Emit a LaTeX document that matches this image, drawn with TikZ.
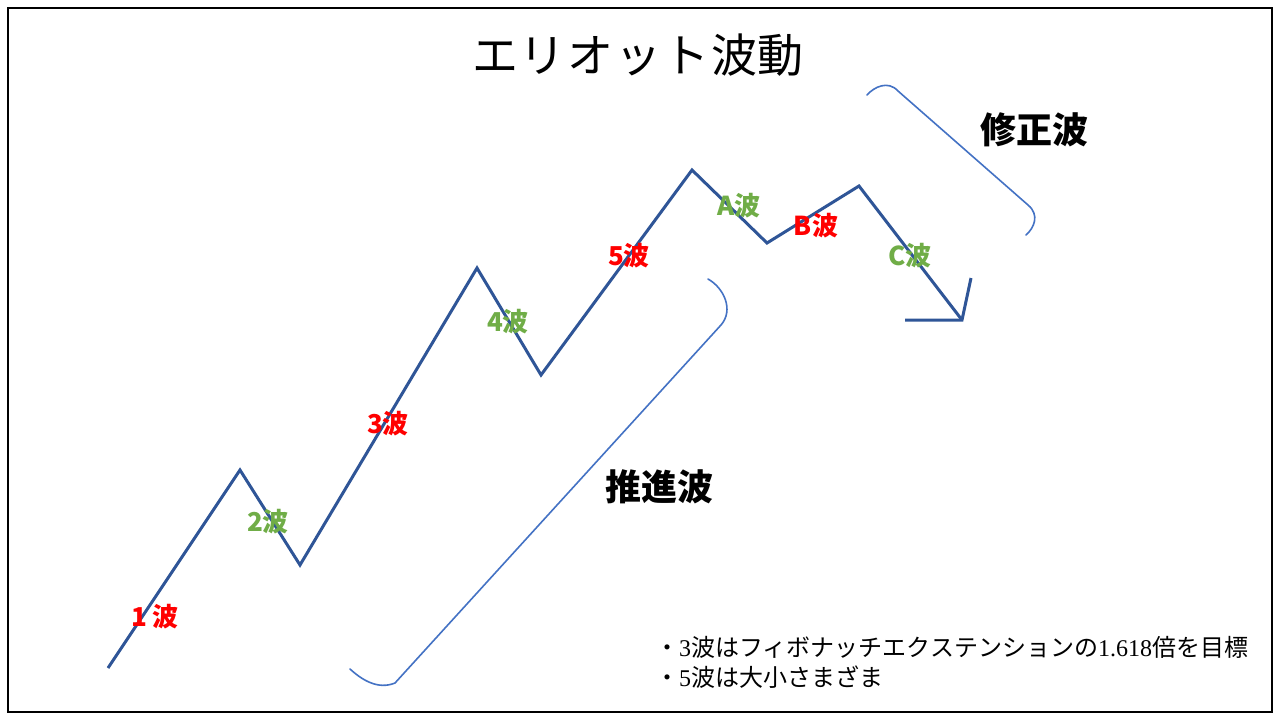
\documentclass[tikz,border=0pt]{standalone}
\usepackage{fontspec}
\newfontfamily\jp{Noto Sans CJK JP}
\newfontfamily\sernum{Liberation Serif}
\definecolor{wave}{HTML}{2F5597}
\definecolor{brk}{HTML}{4472C4}
\definecolor{wred}{HTML}{FF0000}
\definecolor{wgreen}{HTML}{70AD47}
\tikzset{
  waveline/.style={draw=wave, line width=3pt, line join=miter},
  bracketline/.style={draw=brk, line width=1.6pt, line cap=round},
  redlbl/.style={text=wred, font=\jp\bfseries\fontsize{26}{30}\selectfont, inner sep=0pt},
  greenlbl/.style={text=wgreen, font=\jp\bfseries\fontsize{26}{30}\selectfont, inner sep=0pt},
  biglbl/.style={text=black, font=\jp\bfseries\fontsize{36}{40}\selectfont, inner sep=0pt},
  titlelbl/.style={text=black, font=\jp\fontsize{46}{50}\selectfont, inner sep=0pt},
  notelbl/.style={text=black, font=\jp\fontsize{24}{30}\selectfont, inner sep=0pt, anchor=west, align=left}
}
\begin{document}
\begin{tikzpicture}[x=1pt,y=-1pt]
\useasboundingbox (0,0) rectangle (1280,720);
\fill[white] (0,0) rectangle (1280,720);
\draw[line width=1.5pt] (8,8) rectangle (1272,712);

% title
\node[titlelbl] (title) at (638,55) {エ\kern2pt リ\kern2pt オ\kern2pt ッ\kern2pt ト\kern2pt 波動};

% wave points
\coordinate (p0) at (108,668);
\coordinate (p1) at (240,470);
\coordinate (p2) at (300,565);
\coordinate (p3) at (477,268);
\coordinate (p4) at (541,375);
\coordinate (p5) at (692,170);
\coordinate (p6) at (767,243);
\coordinate (p7) at (859,186);
\coordinate (p8) at (962,320);
\coordinate (a1) at (905,320);
\coordinate (a2) at (971,278);
\draw[waveline] (p0) -- (p1) -- (p2) -- (p3) -- (p4) -- (p5) -- (p6) -- (p7) -- (p8);
\draw[waveline] (a1) -- (p8) -- (a2);

% brackets
\coordinate (b1s) at (350,669);
\coordinate (b1e) at (708,279);
\draw[bracketline] (b1s) .. controls (362,680) and (378,690) .. (395,683)
  -- (721,325) .. controls (734,310) and (724,288) .. (b1e);
\coordinate (b2s) at (867,95);
\coordinate (b2e) at (1026,235);
\draw[bracketline] (b2s) .. controls (874,87) and (888,80) .. (898,91)
  -- (1028,205) .. controls (1040,215) and (1034,228) .. (b2e);

% wave labels
\node[redlbl] (w1) at (155,617) {1 波};
\node[greenlbl] (w2) at (268,522) {2波};
\node[redlbl] (w3) at (388,424) {3波};
\node[greenlbl] (w4) at (508,322) {4波};
\node[redlbl] (w5) at (629,256) {5波};
\node[greenlbl] (wa) at (739,206) {A波};
\node[redlbl] (wb) at (816,226) {B波};
\node[greenlbl] (wc) at (910,256) {C波};

\node[biglbl] (imp) at (659,487) {推進波};
\node[biglbl] (cor) at (1034,130) {修正波};

% notes
\node[notelbl] (n1) at (655,647) {・{\sernum 3}波はフィボナッチエクステンションの{\sernum 1.618}倍を目標};
\node[notelbl] (n2) at (655,677) {・{\sernum 5}波は大小さまざま};
\end{tikzpicture}
\end{document}
